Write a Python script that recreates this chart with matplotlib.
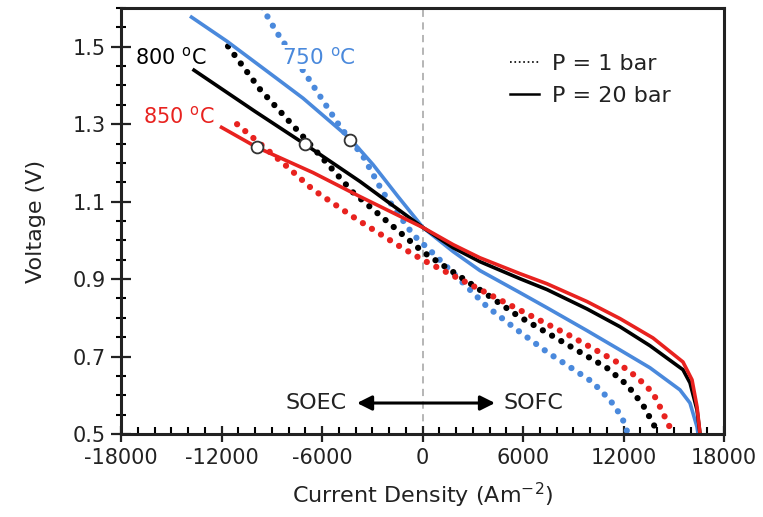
import numpy as np
import matplotlib
matplotlib.use('Agg')
import matplotlib.pyplot as plt
from matplotlib.lines import Line2D
from matplotlib.ticker import MultipleLocator

plt.rcParams['font.family'] = ['DejaVu Sans']
plt.rcParams['axes.unicode_minus'] = False

BLUE = '#4a89dc'
RED = '#e8221f'
BLACK = '#000000'

# P = 20 bar (solid)
x_750_20 = [-13880, -11670, -8700, -7130, -4330, -2960, -1460, 30, 1830, 3430,
            5820, 7430, 9820, 11790, 13580, 15370, 15970, 16390, 16450]
v_750_20 = [1.579, 1.514, 1.418, 1.367, 1.263, 1.196, 1.113, 1.033, 0.971, 0.922,
            0.865, 0.826, 0.767, 0.717, 0.671, 0.614, 0.580, 0.518, 0.500]

x_800_20 = [-13730, -10000, -7010, -3730, 30, 1830, 3430, 5820, 7430, 9820,
            11790, 13580, 15550, 15970, 16390, 16570]
v_800_20 = [1.442, 1.333, 1.248, 1.152, 1.033, 0.981, 0.945, 0.901, 0.873, 0.823,
            0.777, 0.728, 0.666, 0.632, 0.562, 0.500]

x_850_20 = [-12090, -9880, -6540, -3730, 30, 1830, 3430, 5820, 7430, 9820,
            11790, 13760, 15550, 16090, 16390, 16570]
v_850_20 = [1.294, 1.240, 1.175, 1.113, 1.033, 0.989, 0.955, 0.914, 0.888, 0.842,
            0.798, 0.748, 0.686, 0.640, 0.570, 0.500]

# P = 1 bar (dotted)
x_750_1 = [-9580, -8700, -6900, -4930, -3550, -2360, -570, 600, 3850, 5640,
           7490, 8800, 10120, 11190, 11620, 11970, 12270]
v_750_1 = [1.602, 1.537, 1.424, 1.294, 1.217, 1.124, 1.015, 0.968, 0.829, 0.769,
           0.710, 0.673, 0.635, 0.588, 0.562, 0.536, 0.500]

x_800_1 = [-11610, -9700, -7130, -4150, -1760, 0, 3850, 5700, 7730, 9700,
           11000, 12210, 13160, 13880, 14000]
v_800_1 = [1.501, 1.390, 1.268, 1.124, 1.036, 0.971, 0.860, 0.805, 0.754, 0.704,
           0.671, 0.627, 0.575, 0.518, 0.500]

x_850_1 = [-11070, -8100, -6540, -3910, -1340, 0, 3430, 6120, 8800, 11490,
           12800, 13760, 14180, 14780, 14890]
v_850_1 = [1.300, 1.191, 1.131, 1.054, 0.984, 0.950, 0.873, 0.813, 0.754, 0.689,
           0.647, 0.606, 0.570, 0.516, 0.500]

# open circles
circ_x = [-9880, -7010, -4330]
circ_v = [1.240, 1.248, 1.260]

fig = plt.figure(figsize=(7.63, 5.17), dpi=100)
ax = fig.add_axes([121/763, 1-434/517, 603/763, 426/517])

ax.axvline(0, color='#b0b0b0', lw=1.3, ls=(0, (4, 3)), zorder=1)

dot = dict(lw=4.5, ls=(0, (0.01, 1.7)), dash_capstyle='round')
ax.plot(x_750_1, v_750_1, color=BLUE, **dot)
ax.plot(x_800_1, v_800_1, color=BLACK, **dot)
ax.plot(x_850_1, v_850_1, color=RED, **dot)

ax.plot(x_750_20, v_750_20, color=BLUE, lw=2.6, solid_capstyle='butt', solid_joinstyle='round')
ax.plot(x_800_20, v_800_20, color=BLACK, lw=2.6, solid_capstyle='butt', solid_joinstyle='round')
ax.plot(x_850_20, v_850_20, color=RED, lw=2.6, solid_capstyle='butt', solid_joinstyle='round')

ax.plot(circ_x, circ_v, 'o', ms=8.5, mfc='white', mec='#333333', mew=1.3, zorder=5)

ax.set_xlim(-18000, 18000)
ax.set_ylim(0.5, 1.6)
ax.xaxis.set_major_locator(MultipleLocator(6000))
ax.xaxis.set_minor_locator(MultipleLocator(1000))
ax.set_yticks([0.5, 0.7, 0.9, 1.1, 1.3, 1.5])
ax.yaxis.set_minor_locator(MultipleLocator(0.05))
ax.tick_params(axis='both', which='major', labelsize=15, width=1.6, color='#222222',
               labelcolor='#222222')
ax.tick_params(axis='x', which='major', direction='inout', length=12, pad=4)
ax.tick_params(axis='x', which='minor', direction='in', length=5, width=1.5)
ax.tick_params(axis='y', which='major', direction='inout', length=14, pad=4)
ax.tick_params(axis='y', which='minor', direction='inout', length=7, width=1.5)
for s in ax.spines.values():
    s.set_linewidth(2.2)
    s.set_color('#222222')

ax.set_xlabel('Current Density (Am$^{\\mathregular{-2}}$)', fontsize=16, labelpad=9,
              color='#222222')
ax.set_ylabel('Voltage (V)', fontsize=16, labelpad=19, color='#222222')

ax.text(-17160, 1.473, '800 $^{\\mathregular{o}}$C', fontsize=15, color=BLACK, va='center')
ax.text(-8390, 1.473, '750 $^{\\mathregular{o}}$C', fontsize=15.5, color=BLUE, va='center',
        zorder=6, bbox=dict(facecolor='white', edgecolor='none', pad=1))
ax.text(-16690, 1.32, '850 $^{\\mathregular{o}}$C', fontsize=15, color=RED, va='center')

ax.annotate('', xy=(-3910, 0.58), xytext=(4330, 0.58),
            arrowprops=dict(arrowstyle='<|-|>', color='black', lw=2.2,
                            mutation_scale=22, shrinkA=0, shrinkB=0))
ax.text(-4510, 0.58, 'SOEC', fontsize=16, ha='right', va='center', color='#222222')
ax.text(4810, 0.58, 'SOFC', fontsize=16, ha='left', va='center', color='#222222')

handles = [Line2D([], [], color='black', ls=':', lw=1.2),
           Line2D([], [], color='black', ls='-', lw=1.8)]
ax.legend(handles, ['P = 1 bar', 'P = 20 bar'], loc='upper left',
          bbox_to_anchor=(0.612, 0.94), frameon=False, fontsize=16,
          handlelength=1.3, handletextpad=0.6, labelspacing=0.55,
          labelcolor='#222222')

fig.savefig('out.png', dpi=100)
